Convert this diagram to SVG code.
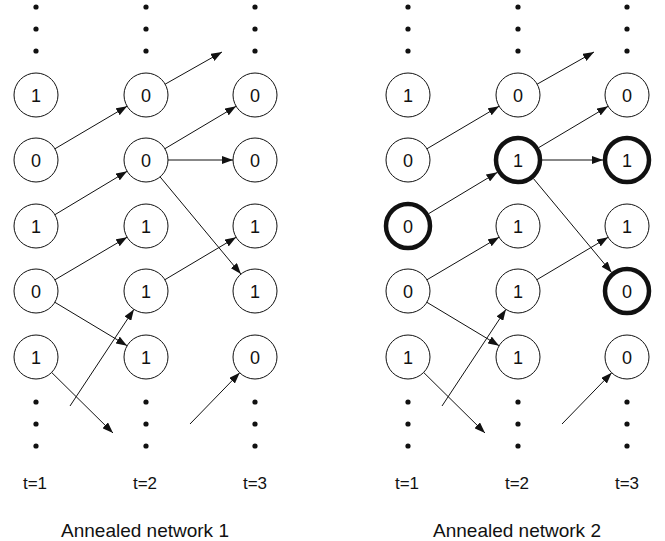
<svg xmlns="http://www.w3.org/2000/svg" width="665" height="541" viewBox="0 0 665 541">
<style>
.node circle{fill:#fff;stroke:#111;stroke-width:1}
.node.bold circle{stroke-width:4.5}
.node text{font-family:"Liberation Sans",Arial,sans-serif;font-size:18px;text-anchor:middle;fill:#111}
.dot{fill:#111}
.conn line{stroke:#111;stroke-width:1;marker-end:url(#ah)}
.lbl{font-family:"Liberation Sans",Arial,sans-serif;font-size:17px;text-anchor:middle;fill:#111}
.cap{font-family:"Liberation Sans",Arial,sans-serif;font-size:19px;text-anchor:middle;fill:#111}
</style>
<defs>
<marker id="ah" markerUnits="userSpaceOnUse" markerWidth="11" markerHeight="8" refX="11" refY="4" orient="auto">
<path d="M0,0 L11,4 L0,8 z" fill="#111"/>
</marker>
<g id="dots3">
<circle class="dot" cx="0" cy="0" r="2.6"/>
<circle class="dot" cx="0" cy="22" r="2.6"/>
<circle class="dot" cx="0" cy="44" r="2.6"/>
</g>
</defs>
<rect width="665" height="541" fill="#fff"/>

<!-- Network 1 -->
<g id="network1">
<g id="dots1">
<use href="#dots3" x="36" y="7"/><use href="#dots3" x="146" y="7"/><use href="#dots3" x="255" y="7"/>
<use href="#dots3" x="36" y="402"/><use href="#dots3" x="146" y="402"/><use href="#dots3" x="255" y="402"/>
</g>
<g id="a1-c1r1" class="node"><circle cx="36" cy="95" r="22"/><text x="36" y="101.5">1</text></g>
<g id="a1-c1r2" class="node"><circle cx="36" cy="160" r="22"/><text x="36" y="166.5">0</text></g>
<g id="a1-c1r3" class="node"><circle cx="36" cy="226" r="22"/><text x="36" y="232.5">1</text></g>
<g id="a1-c1r4" class="node"><circle cx="36" cy="291" r="22"/><text x="36" y="297.5">0</text></g>
<g id="a1-c1r5" class="node"><circle cx="36" cy="357" r="22"/><text x="36" y="363.5">1</text></g>
<g id="a1-c2r1" class="node"><circle cx="146" cy="95" r="22"/><text x="146" y="101.5">0</text></g>
<g id="a1-c2r2" class="node"><circle cx="146" cy="160" r="22"/><text x="146" y="166.5">0</text></g>
<g id="a1-c2r3" class="node"><circle cx="146" cy="226" r="22"/><text x="146" y="232.5">1</text></g>
<g id="a1-c2r4" class="node"><circle cx="146" cy="291" r="22"/><text x="146" y="297.5">1</text></g>
<g id="a1-c2r5" class="node"><circle cx="146" cy="357" r="22"/><text x="146" y="363.5">1</text></g>
<g id="a1-c3r1" class="node"><circle cx="255" cy="95" r="22"/><text x="255" y="101.5">0</text></g>
<g id="a1-c3r2" class="node"><circle cx="255" cy="160" r="22"/><text x="255" y="166.5">0</text></g>
<g id="a1-c3r3" class="node"><circle cx="255" cy="226" r="22"/><text x="255" y="232.5">1</text></g>
<g id="a1-c3r4" class="node"><circle cx="255" cy="291" r="22"/><text x="255" y="297.5">1</text></g>
<g id="a1-c3r5" class="node"><circle cx="255" cy="357" r="22"/><text x="255" y="363.5">0</text></g>
<g id="connectors1" class="conn">
<line x1="165.1" y1="84.2" x2="222" y2="52"/>
<line x1="54.9" y1="148.8" x2="127.1" y2="106.2"/>
<line x1="164.9" y1="148.7" x2="236.1" y2="106.3"/>
<line x1="168" y1="160" x2="233" y2="160"/>
<line x1="160.1" y1="176.9" x2="240.9" y2="274.1"/>
<line x1="54.9" y1="214.7" x2="127.1" y2="171.3"/>
<line x1="54.9" y1="279.8" x2="127.1" y2="237.2"/>
<line x1="54.9" y1="302.3" x2="127.1" y2="345.7"/>
<line x1="164.9" y1="279.7" x2="236.1" y2="237.3"/>
<line x1="70" y1="406" x2="133.9" y2="309.4"/>
<line x1="51.7" y1="372.5" x2="113" y2="433"/>
<line x1="190" y1="424" x2="239.7" y2="372.8"/>
</g>
<text class="lbl" x="35" y="489">t=1</text>
<text class="lbl" x="145" y="489">t=2</text>
<text class="lbl" x="255" y="489">t=3</text>
<text class="cap" x="145" y="537">Annealed network 1</text>
</g>

<!-- Network 2 -->
<g id="network2" transform="translate(372,0)">
<g id="dots2">
<use href="#dots3" x="36" y="7"/><use href="#dots3" x="146" y="7"/><use href="#dots3" x="255" y="7"/>
<use href="#dots3" x="36" y="402"/><use href="#dots3" x="146" y="402"/><use href="#dots3" x="255" y="402"/>
</g>
<g id="a2-c1r1" class="node"><circle cx="36" cy="95" r="22"/><text x="36" y="101.5">1</text></g>
<g id="a2-c1r2" class="node"><circle cx="36" cy="160" r="22"/><text x="36" y="166.5">0</text></g>
<g id="a2-c1r3" class="node bold"><circle cx="36" cy="226" r="22"/><text x="36" y="232.5">0</text></g>
<g id="a2-c1r4" class="node"><circle cx="36" cy="291" r="22"/><text x="36" y="297.5">0</text></g>
<g id="a2-c1r5" class="node"><circle cx="36" cy="357" r="22"/><text x="36" y="363.5">1</text></g>
<g id="a2-c2r1" class="node"><circle cx="146" cy="95" r="22"/><text x="146" y="101.5">0</text></g>
<g id="a2-c2r2" class="node bold"><circle cx="146" cy="160" r="22"/><text x="146" y="166.5">1</text></g>
<g id="a2-c2r3" class="node"><circle cx="146" cy="226" r="22"/><text x="146" y="232.5">1</text></g>
<g id="a2-c2r4" class="node"><circle cx="146" cy="291" r="22"/><text x="146" y="297.5">1</text></g>
<g id="a2-c2r5" class="node"><circle cx="146" cy="357" r="22"/><text x="146" y="363.5">1</text></g>
<g id="a2-c3r1" class="node"><circle cx="255" cy="95" r="22"/><text x="255" y="101.5">0</text></g>
<g id="a2-c3r2" class="node bold"><circle cx="255" cy="160" r="22"/><text x="255" y="166.5">1</text></g>
<g id="a2-c3r3" class="node"><circle cx="255" cy="226" r="22"/><text x="255" y="232.5">1</text></g>
<g id="a2-c3r4" class="node bold"><circle cx="255" cy="291" r="22"/><text x="255" y="297.5">0</text></g>
<g id="a2-c3r5" class="node"><circle cx="255" cy="357" r="22"/><text x="255" y="363.5">0</text></g>
<g id="connectors2" class="conn">
<line x1="165.1" y1="84.2" x2="222" y2="52"/>
<line x1="54.9" y1="148.8" x2="127.1" y2="106.2"/>
<line x1="166.6" y1="147.7" x2="236.1" y2="106.3"/>
<line x1="170" y1="160" x2="231" y2="160"/>
<line x1="161.4" y1="178.5" x2="239.6" y2="272.5"/>
<line x1="56.6" y1="213.7" x2="125.4" y2="172.3"/>
<line x1="54.9" y1="279.8" x2="127.1" y2="237.2"/>
<line x1="54.9" y1="302.3" x2="127.1" y2="345.7"/>
<line x1="164.9" y1="279.7" x2="236.1" y2="237.3"/>
<line x1="70" y1="406" x2="133.9" y2="309.4"/>
<line x1="51.7" y1="372.5" x2="113" y2="433"/>
<line x1="190" y1="424" x2="239.7" y2="372.8"/>
</g>
<text class="lbl" x="35" y="489">t=1</text>
<text class="lbl" x="145" y="489">t=2</text>
<text class="lbl" x="255" y="489">t=3</text>
<text class="cap" x="145" y="537">Annealed network 2</text>
</g>
</svg>
